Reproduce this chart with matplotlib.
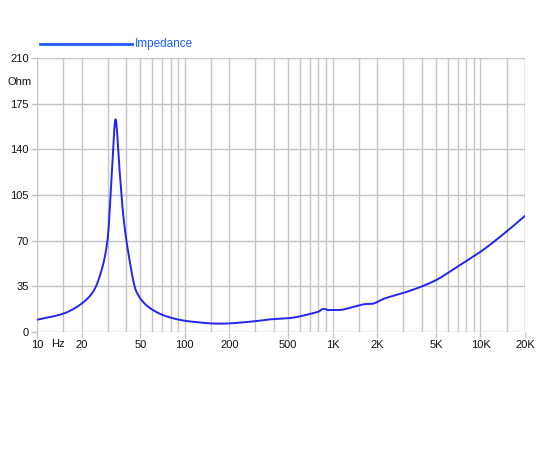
import matplotlib
matplotlib.use("Agg")
import matplotlib.pyplot as plt
import numpy as np

plt.rcParams['font.family'] = ['Liberation Sans', 'DejaVu Sans']

freq_hz = [10, 15, 20, 24, 27.4, 30, 32, 34, 36, 38.4, 41.5, 47, 58, 79, 108,
           173, 290, 378, 515, 560, 700, 800, 870, 930, 1120, 1320, 1670, 1840,
           2220, 3000, 4000, 5050, 6240, 8100, 10300, 15000, 20000]
impedance_ohm = [9.4, 14, 21.7, 31, 47.7, 70.7, 119, 163, 127, 88.6, 60.5, 31, 18.4, 11.2, 8.1,
                 6.4, 8.1, 9.7, 10.7, 11.3, 13.8, 15.6, 17.8, 16.8, 16.9, 18.6, 21.4, 21.6,
                 25.5, 29.9, 34.9, 40, 46.4, 54.6, 62.5, 77, 89]

y_ticks = [0, 35, 70, 105, 140, 175, 210]
x_label_pos = [10, 20, 50, 100, 200, 500, 1000, 2000, 5000, 10000, 20000]
x_label_txt = ['10', '20', '50', '100', '200', '500', '1K', '2K', '5K', '10K', '20K']
grid_freqs = [m * 10**d for d in range(1, 5) for m in (1, 1.5, 2, 3, 4, 5, 6, 7, 8, 9)] + [20000]
grid_freqs = [g for g in grid_freqs if g <= 20000]

fig = plt.figure(figsize=(5.5, 4.5), dpi=100)
ax = fig.add_axes([37/550, 1-332/450, (525-37)/550, (332-58)/450])

lf = np.log10(freq_hz)
fine = np.linspace(lf[0], lf[-1], 1200)

def pchip(x, y, xn):
    x = np.asarray(x); y = np.asarray(y, dtype=float)
    h = np.diff(x); d = np.diff(y) / h
    m = np.zeros_like(y)
    for k in range(1, len(y)-1):
        if d[k-1]*d[k] > 0:
            w1 = 2*h[k] + h[k-1]; w2 = h[k] + 2*h[k-1]
            m[k] = (w1 + w2) / (w1/d[k-1] + w2/d[k])
    m[0] = d[0]; m[-1] = d[-1]
    idx = np.clip(np.searchsorted(x, xn) - 1, 0, len(x)-2)
    t = (xn - x[idx]) / h[idx]
    h00 = 2*t**3 - 3*t**2 + 1; h10 = t**3 - 2*t**2 + t
    h01 = -2*t**3 + 3*t**2; h11 = t**3 - t**2
    return h00*y[idx] + h10*h[idx]*m[idx] + h01*y[idx+1] + h11*h[idx]*m[idx+1]
ys = pchip(lf, impedance_ohm, fine)

ax.set_xscale('log')
ax.set_xlim(10, 20000)
ax.set_ylim(0, 210)

gcol = '#c4c4c4'
for g in grid_freqs:
    ax.axvline(g, color=gcol, lw=1, zorder=1)
for t in y_ticks:
    ax.axhline(t, color=gcol, lw=1, zorder=1)

ax.plot(10**fine, ys, color='#2424f0', lw=1.4, zorder=3)

for s in ax.spines.values():
    s.set_visible(False)

ax.set_yticks(y_ticks)
ax.set_yticklabels([str(t) for t in y_ticks])
ax.set_xticks(x_label_pos)
ax.set_xticklabels(x_label_txt)
ax.xaxis.set_minor_locator(matplotlib.ticker.NullLocator())
ax.tick_params(axis='both', length=4, width=1, color=gcol, labelsize=8, pad=2, labelcolor='#111111')

ax.text(-0.012, (332-82)/274, 'Ohm', transform=ax.transAxes, ha='right', va='center', fontsize=8, color='#111111')
fig.text(58/550, 1-344/450, 'Hz', ha='center', va='center', fontsize=8, color='#111111')

# legend
fig.add_artist(matplotlib.lines.Line2D([40/550, 132/550], [1-44/450, 1-44/450], color='#1a5cff', lw=2))
fig.text(135/550, 1-44/450, 'Impedance', ha='left', va='center', fontsize=8.5, color='#1a5cff')

fig.savefig('out.png', dpi=100)
